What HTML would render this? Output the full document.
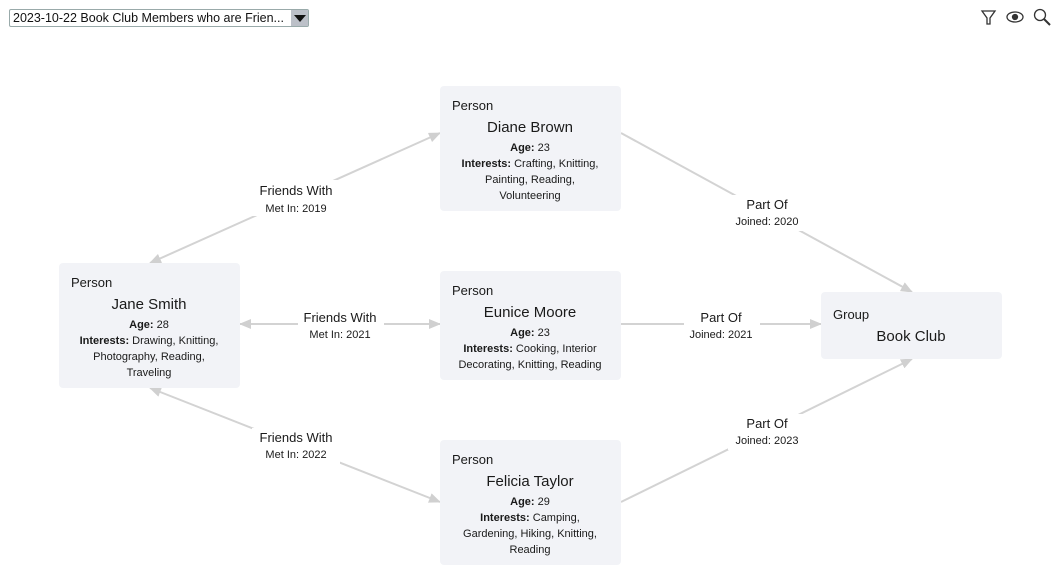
<!DOCTYPE html>
<html><head><meta charset="utf-8"><style>
body{margin:0;background:#fff;width:1061px;height:588px;overflow:hidden;font-family:"Liberation Sans",sans-serif}
svg text{font-family:"Liberation Sans",sans-serif;fill:#1a1a1a}
.sel{position:absolute;left:9px;top:9px;width:298px;height:16px;border:1px solid #9aa;border-radius:2px;background:#fff;font-size:12.5px;line-height:16px;box-sizing:border-box;padding-left:3px;width:300px;height:18px;color:#111}
.sel b{position:absolute;right:0;top:0;width:17px;height:16px;background:#bcc0c8}
.sel b:after{content:"";position:absolute;left:3px;top:5px;border-left:6px solid transparent;border-right:6px solid transparent;border-top:7px solid #111}
</style></head><body>
<div class="sel">2023-10-22 Book Club Members who are Frien...<b></b></div>
<svg width="1061" height="588" style="position:absolute;left:0;top:0">
<defs><marker id="a" markerWidth="12" markerHeight="10" refX="11" refY="5" orient="auto-start-reverse" markerUnits="userSpaceOnUse"><path d="M0,0 L12,5 L0,10 z" fill="#d0d0d0"/></marker></defs>
<g fill="none" stroke="#333" stroke-width="1.3">
<path d="M982,11 L995,11 L990,18 L990,24 L987,24 L987,18 Z"/>
<ellipse cx="1015" cy="17" rx="8" ry="5"/><circle cx="1015" cy="17" r="2.5" fill="#333"/>
<circle cx="1040" cy="15" r="5.5"/><path d="M1044,19 L1050,25" stroke-width="2"/>
</g>
<g stroke="#d3d3d3" stroke-width="2" fill="none">
<line x1="150" y1="263" x2="440" y2="133" marker-start="url(#a)" marker-end="url(#a)"/>
<line x1="240" y1="324" x2="440" y2="324" marker-start="url(#a)" marker-end="url(#a)"/>
<line x1="150" y1="388" x2="440" y2="502" marker-start="url(#a)" marker-end="url(#a)"/>
<line x1="621" y1="133" x2="912" y2="292" marker-end="url(#a)"/>
<line x1="621" y1="324" x2="821" y2="324" marker-end="url(#a)"/>
<line x1="621" y1="502" x2="912" y2="359" marker-end="url(#a)"/>
</g>
<g fill="#fff">
<rect x="252" y="180" width="88" height="36"/><rect x="298" y="309" width="86" height="34"/><rect x="252" y="428" width="88" height="36"/>
<rect x="728" y="195" width="80" height="36"/><rect x="684" y="309" width="76" height="34"/><rect x="728" y="414" width="80" height="36"/>
</g>
<g text-anchor="middle">
<text x="296" y="195" font-size="13">Friends With</text><text x="296" y="212" font-size="11">Met In: 2019</text>
<text x="340" y="322" font-size="13">Friends With</text><text x="340" y="338" font-size="11">Met In: 2021</text>
<text x="296" y="442" font-size="13">Friends With</text><text x="296" y="458" font-size="11">Met In: 2022</text>
<text x="767" y="209" font-size="13">Part Of</text><text x="767" y="225" font-size="11">Joined: 2020</text>
<text x="721" y="322" font-size="13">Part Of</text><text x="721" y="338" font-size="11">Joined: 2021</text>
<text x="767" y="428" font-size="13">Part Of</text><text x="767" y="444" font-size="11">Joined: 2023</text>
</g>
<g fill="#f2f3f7">
<rect x="440" y="86" width="181" height="125" rx="4"/>
<rect x="59" y="263" width="181" height="125" rx="4"/>
<rect x="440" y="271" width="181" height="109" rx="4"/>
<rect x="440" y="440" width="181" height="125" rx="4"/>
<rect x="821" y="292" width="181" height="67" rx="4"/>
</g>
<g font-size="13"><text x="452" y="110">Person</text><text x="71" y="287">Person</text><text x="452" y="295">Person</text><text x="452" y="464">Person</text><text x="833" y="319">Group</text></g>
<g text-anchor="middle" font-size="15">
<text x="530" y="132">Diane Brown</text><text x="149" y="309">Jane Smith</text><text x="530" y="317">Eunice Moore</text><text x="530" y="486">Felicia Taylor</text><text x="911" y="341">Book Club</text>
</g>
<g text-anchor="middle" font-size="11">
<text x="530" y="151"><tspan font-weight="bold">Age:</tspan> 23</text>
<text x="530" y="167"><tspan font-weight="bold">Interests:</tspan> Crafting, Knitting,</text>
<text x="530" y="183">Painting, Reading,</text><text x="530" y="199">Volunteering</text>
<text x="149" y="328"><tspan font-weight="bold">Age:</tspan> 28</text>
<text x="149" y="344"><tspan font-weight="bold">Interests:</tspan> Drawing, Knitting,</text>
<text x="149" y="360">Photography, Reading,</text><text x="149" y="376">Traveling</text>
<text x="530" y="336"><tspan font-weight="bold">Age:</tspan> 23</text>
<text x="530" y="352"><tspan font-weight="bold">Interests:</tspan> Cooking, Interior</text>
<text x="530" y="368">Decorating, Knitting, Reading</text>
<text x="530" y="505"><tspan font-weight="bold">Age:</tspan> 29</text>
<text x="530" y="521"><tspan font-weight="bold">Interests:</tspan> Camping,</text>
<text x="530" y="537">Gardening, Hiking, Knitting,</text><text x="530" y="553">Reading</text>
</g>
</svg>
</body></html>
